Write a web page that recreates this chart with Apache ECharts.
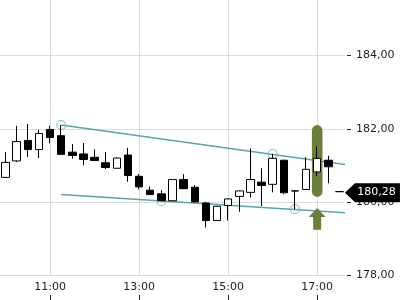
<!DOCTYPE html>
<html>
<head>
<meta charset="utf-8">
<script src="https://cdn.jsdelivr.net/npm/echarts@6/dist/echarts.min.js"></script>
<style>
html,body{margin:0;padding:0;background:#fff;}
#chart{width:400px;height:300px;}
</style>
</head>
<body>
<div id="chart"></div>
<script>
// ---- data ----
const categories = ['10:00','10:15','10:30','10:45','11:00','11:15','11:30','11:45','12:00','12:15','12:30','12:45',
  '13:00','13:15','13:30','13:45','14:00','14:15','14:30','14:45','15:00','15:15','15:30','15:45',
  '16:00','16:15','16:30','16:45','17:00','17:15','17:30'];
const openVals  = [180.67,181.12,181.68,181.43,181.98,181.81,181.36,181.31,181.22,181.07,180.92,181.28,180.70,180.32,180.22,180.03,180.61,180.40,179.97,179.49,179.90,180.15,180.26,180.54,180.48,181.14,180.30,180.34,180.82,181.14,180.28];
const closeVals = [181.08,181.65,181.43,181.87,181.76,181.30,181.27,181.16,181.13,180.94,181.20,180.72,180.41,180.20,180.03,180.61,180.36,180.00,179.49,179.88,180.08,180.30,180.61,180.45,181.19,180.25,180.30,180.89,181.19,180.96,180.28];
const lowVals   = [180.66,181.09,181.23,181.20,181.60,181.29,181.18,181.00,181.12,180.90,180.91,180.55,180.34,180.19,180.02,180.02,180.35,179.99,179.30,179.48,179.49,179.73,180.12,179.89,180.26,180.21,179.80,180.33,180.70,180.51,180.28];
const highVals  = [181.36,182.08,182.13,181.97,182.08,182.10,181.58,181.61,181.44,181.36,181.21,181.48,180.76,180.42,180.32,180.62,180.76,180.46,180.00,179.89,180.09,180.31,181.46,180.92,181.31,181.15,180.31,181.22,181.52,181.26,180.28];
const xTickLabels = ['11:00','13:00','15:00','17:00'];
const yTicks = [178, 180, 182, 184];
// trend channel (x = candle index)
const upperLine = [[5, 182.10], [30.5, 181.02]];
const lowerLine = [[5, 180.20], [30.5, 179.70]];
const anchorPoints = [[5, 182.10], [24, 181.31], [14, 180.02], [26, 179.80]];
// signal highlight: [category, top, bottom]
const highlightBar = [['17:00', 182.10, 180.14]];
const signalArrow = [['17:00', 179.83, 179.24]];

const lastPrice = closeVals[closeVals.length - 1];
const fmt = v => v.toFixed(2).replace('.', ',');

const candleData = openVals.map((o, i) => [o, closeVals[i], lowVals[i], highVals[i]]);
const teal = '#5ba4a7';
const olive = '#6b7f3a';
const showIdx = (i) => xTickLabels.indexOf(categories[i]) >= 0;
const hiddenLine = {show: false, onZero: false, lineStyle: {color: 'rgba(0,0,0,0)', width: 0, opacity: 0}};

const chart = echarts.init(document.getElementById('chart'), null, {renderer: 'canvas'});
chart.setOption({
  animation: false,
  backgroundColor: '#fff',
  textStyle: {fontFamily: 'DejaVu Sans'},
  grid: {left: 0, right: 55, top: -17.5, bottom: 25, containLabel: false, outerBoundsMode: 'none', show: false, borderWidth: 0},
  xAxis: [{
    type: 'category', data: categories, boundaryGap: true, offset: 25,
    axisLine: hiddenLine,
    axisTick: {show: true, inside: true, length: 5, interval: showIdx, alignWithLabel: true, lineStyle: {color: '#222'}},
    axisLabel: {show: true, inside: true, margin: 7, interval: showIdx, color: '#222', fontSize: 11, fontFamily: 'DejaVu Sans'},
    splitLine: {show: true, interval: showIdx, alignWithLabel: true, lineStyle: {color: '#dcdcdc', width: 1}}
  }, {
    type: 'value', min: -0.5, max: 30.5, show: false,
    axisLine: hiddenLine, splitLine: {show: false}, axisTick: {show: false}, axisLabel: {show: false}
  }],
  yAxis: {
    type: 'value', position: 'right', min: 178, max: 186, interval: 2, offset: 2,
    axisLine: hiddenLine,
    axisTick: {show: true, length: 4, lineStyle: {color: '#222'}},
    axisLabel: {margin: 9, color: '#222', fontSize: 11, fontFamily: 'DejaVu Sans', formatter: v => yTicks.indexOf(v) >= 0 ? fmt(v) : ''},
    splitLine: {show: true, lineStyle: {color: '#dcdcdc', width: 1}}
  },
  series: [
    {type: 'line', xAxisIndex: 1, data: upperLine, symbol: 'none', lineStyle: {color: teal, width: 1.5}, z: 2},
    {type: 'line', xAxisIndex: 1, data: lowerLine, symbol: 'none', lineStyle: {color: teal, width: 1.5}, z: 2},
    {type: 'scatter', xAxisIndex: 1, data: anchorPoints, symbol: 'circle', symbolSize: 9,
      itemStyle: {color: 'rgba(0,0,0,0)', borderColor: '#7fb9bb', borderWidth: 1.2}, z: 2},
    {type: 'custom', xAxisIndex: 0, data: highlightBar, z: 3,
      renderItem: function (params, api) {
        const x = api.value(0);
        const top = api.coord([x, api.value(1)]);
        const bot = api.coord([x, api.value(2)]);
        const w = api.size([1, 0])[0] * 0.95;
        return {type: 'rect', shape: {x: top[0] - w / 2, y: top[1], width: w, height: bot[1] - top[1], r: w / 2}, style: {fill: olive}};
      }},
    {type: 'custom', xAxisIndex: 0, data: signalArrow, z: 3,
      renderItem: function (params, api) {
        const x = api.value(0);
        const tip = api.coord([x, api.value(1)]);
        const base = api.coord([x, api.value(2)]);
        const cx = tip[0], hh = 9, hw = 8.5, sw = 4;
        return {type: 'polygon', shape: {points: [
          [cx, tip[1]], [cx + hw, tip[1] + hh], [cx + sw, tip[1] + hh], [cx + sw, base[1]],
          [cx - sw, base[1]], [cx - sw, tip[1] + hh], [cx - hw, tip[1] + hh]]}, style: {fill: olive}};
      }},
    {type: 'candlestick', xAxisIndex: 0, data: candleData, barWidth: 8, clip: false, z: 4,
      itemStyle: {color: '#ffffff', color0: '#000000', borderColor: '#000000', borderColor0: '#000000', borderWidth: 1},
      markPoint: {
        symbol: 'path://M0,9.5 L10,0 L55,0 L55,19 L10,19 Z',
        symbolSize: [55, 19], symbolKeepAspect: false, symbolOffset: [33, 1],
        itemStyle: {color: '#000'},
        label: {show: true, position: 'inside', offset: [4, 0], color: '#fff', fontSize: 11, fontFamily: 'DejaVu Sans', formatter: () => fmt(lastPrice)},
        data: [{coord: [categories[categories.length - 1], lastPrice], value: lastPrice}]
      }}
  ]
});
</script>
</body>
</html>
